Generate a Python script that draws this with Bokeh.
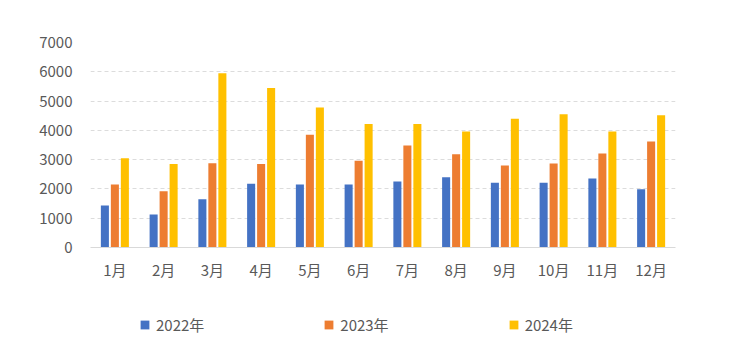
from bokeh.plotting import figure
from bokeh.layouts import column
from bokeh.models import ColumnDataSource, FixedTicker, Legend, LegendItem, FactorRange, Range1d
from bokeh.transform import dodge
from bokeh.embed import file_html
from bokeh.resources import INLINE

months = ["1月", "2月", "3月", "4月", "5月", "6月", "7月", "8月", "9月", "10月", "11月", "12月"]
y2022 = [1430, 1130, 1650, 2180, 2150, 2150, 2250, 2400, 2210, 2210, 2360, 1990]
y2023 = [2150, 1920, 2880, 2850, 3850, 2960, 3480, 3180, 2800, 2870, 3210, 3620]
y2024 = [3050, 2850, 5950, 5450, 4780, 4220, 4220, 3960, 4400, 4550, 3960, 4520]
series_names = ["2022年", "2023年", "2024年"]
colors = ["#4472C4", "#ED7D31", "#FFC000"]
y_ticks = [0, 1000, 2000, 3000, 4000, 5000, 6000, 7000]

src = ColumnDataSource(dict(m=months, a=y2022, b=y2023, c=y2024))
keys = ["a", "b", "c"]
offsets = [-0.205, 0, 0.205]

FONT = "Noto Sans CJK SC"
xr = FactorRange(*months, range_padding=0)
p = figure(width=750, height=300, x_range=xr,
           y_range=(0, 7000), output_backend="svg", toolbar_location=None,
           min_border_left=90, min_border_right=75, min_border_top=42, min_border_bottom=53)
p.outline_line_color = None
p.background_fill_color = "white"
p.border_fill_color = "white"

for key, off, col in zip(keys, offsets, colors):
    p.vbar(x=dodge("m", off, range=xr), top=key, width=0.165, source=src,
           fill_color=col, line_color=None)

p.yaxis.ticker = FixedTicker(ticks=y_ticks)
p.yaxis.axis_line_color = None
p.yaxis.major_tick_line_color = None
p.yaxis.minor_tick_line_color = None
p.yaxis.major_label_standoff = 12
p.yaxis.major_label_text_font = FONT
p.yaxis.major_label_text_font_size = "15px"
p.yaxis.major_label_text_color = "#595959"

p.xaxis.axis_line_color = "#d9d9d9"
p.xaxis.major_tick_line_color = None
p.xaxis.minor_tick_line_color = None
p.xaxis.major_label_standoff = 5
p.xaxis.major_label_text_font = FONT
p.xaxis.major_label_text_font_size = "15px"
p.xaxis.major_label_text_color = "#595959"

p.xgrid.grid_line_color = None
p.ygrid.grid_line_color = "#dcdcdc"
p.ygrid.grid_line_dash = "4 3"
p.ygrid.ticker = FixedTicker(ticks=y_ticks[1:])

# legend strip (same bars, y-range set far away so they fall outside the view)
lg = figure(width=750, height=51, x_range=xr, y_range=Range1d(100000, 100001), output_backend="svg",
            toolbar_location=None, min_border=0, min_border_left=90, min_border_right=75,
            min_border_top=0, min_border_bottom=0)
lg.axis.visible = False
lg.grid.visible = False
lg.outline_line_color = None
lg.border_fill_color = "white"
lg.background_fill_color = "white"
leg_r = []
for key, off, col in zip(keys, offsets, colors):
    leg_r.append(lg.vbar(x=dodge("m", off, range=xr), top=key, width=0.165, source=src,
                         fill_color=col, line_color=None))

legend = Legend(items=[LegendItem(label=n, renderers=[r]) for n, r in zip(series_names, leg_r)],
                orientation="horizontal", location=(49, 16), padding=0, margin=0,
                spacing=119, glyph_width=11, glyph_height=11, label_standoff=6,
                label_text_font=FONT, label_text_font_size="15px", label_text_color="#595959",
                border_line_color=None, background_fill_alpha=0)
lg.add_layout(legend, "center")

layout = column(p, lg, spacing=0)
open("out.html", "w").write(file_html(layout, INLINE))
